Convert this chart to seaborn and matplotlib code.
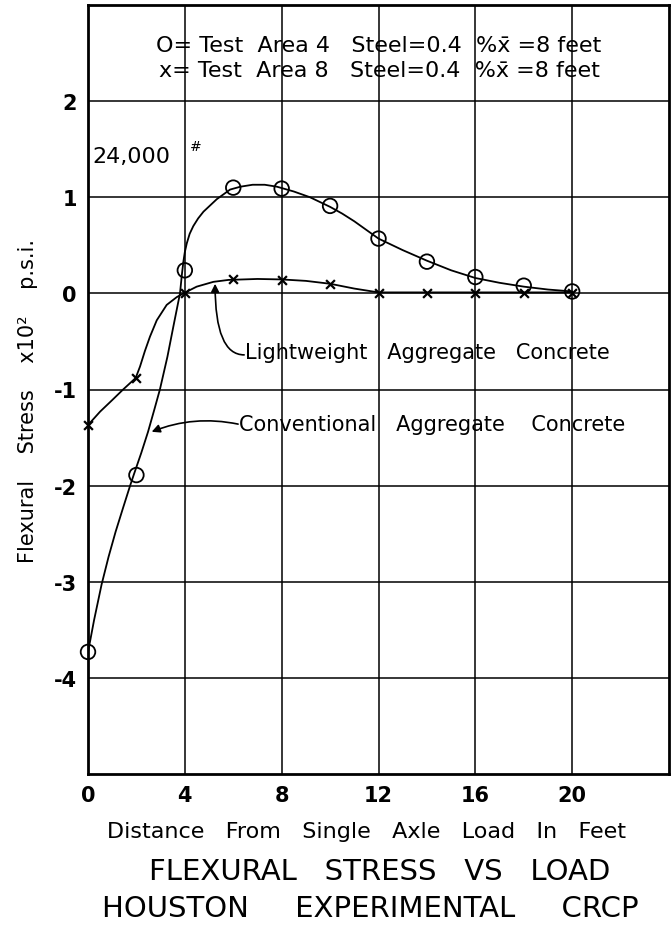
import numpy as np
import pandas as pd
import matplotlib
matplotlib.use("Agg")
import matplotlib.pyplot as plt
import seaborn as sns

# ---- data ----
dist = [0, 2, 4, 6, 8, 10, 12, 14, 16, 18, 20]
stress_area4 = [-3.73, -1.89, 0.24, 1.10, 1.09, 0.91, 0.57, 0.33, 0.17, 0.08, 0.02]   # circles
stress_area8 = [-1.37, -0.88, 0.00, 0.15, 0.14, 0.10, 0.00, 0.00, 0.00, 0.00, 0.00]   # crosses

# hand-drawn fitted curves (vertices)
conv_curve_x = [0, 0.1, 0.25, 0.56, 0.85, 1.14, 1.45, 1.74, 1.9, 2.2, 2.48, 2.75, 2.97, 3.28, 3.53, 3.8,
                3.88, 3.94, 4.0, 4.08, 4.2, 4.35, 4.55, 4.77, 5.32, 5.87, 6.3, 6.8, 7.3, 7.8, 8.5, 9.17, 10.0,
                10.5, 11.0, 11.5, 12.0, 12.5, 13.0, 14.0, 15.0, 16.0, 17.0, 18.0, 19.0, 20.0]
conv_curve_y = [-3.73, -3.6, -3.4, -3.03, -2.74, -2.48, -2.23, -2.0, -1.88, -1.66, -1.44, -1.2, -1.0, -0.66, -0.34, 0.0,
                0.2, 0.33, 0.43, 0.52, 0.62, 0.70, 0.78, 0.85, 0.98, 1.08, 1.11, 1.13, 1.13, 1.11, 1.06, 1.0, 0.9,
                0.83, 0.75, 0.66, 0.57, 0.51, 0.45, 0.34, 0.24, 0.16, 0.11, 0.07, 0.04, 0.02]
lw_curve_x = [0, 0.5, 1.0, 1.45, 1.97, 2.15, 2.35, 2.56, 2.84, 3.25, 3.66, 3.94, 4.49,
              5.18, 5.8, 7.0, 8.0, 9.0, 10.0, 11.0, 12.0, 14.0, 16.0, 18.0, 20.0]
lw_curve_y = [-1.37, -1.23, -1.11, -1.0, -0.88, -0.76, -0.60, -0.45, -0.28, -0.12, -0.04, 0.0, 0.07,
              0.12, 0.14, 0.15, 0.145, 0.13, 0.10, 0.05, 0.01, 0.01, 0.01, 0.01, 0.01]

x_ticks = [0, 4, 8, 12, 16, 20]
y_ticks = [2, 1, 0, -1, -2, -3, -4]
y_tick_labels = ["2", "1", "0", "-1", "-2", "-3", "-4"]

legend_line1 = "O= Test  Area 4   Steel=0.4  %x\u0304 =8 feet"
legend_line2 = "x= Test  Area 8   Steel=0.4  %x\u0304 =8 feet"
load_label = "24,000"
lw_label = "Lightweight   Aggregate   Concrete"
conv_label = "Conventional   Aggregate    Concrete"
x_label = "Distance   From   Single   Axle   Load   In   Feet"
y_label = "Flexural    Stress    x10\u00b2    p.s.i."
title1 = "FLEXURAL   STRESS   VS   LOAD"
title2 = "HOUSTON     EXPERIMENTAL     CRCP"

# ---- styling ----
sns.set_theme(style="white")
plt.rcParams["font.family"] = ["DejaVu Sans"]
plt.rcParams.update({"text.color": "black", "axes.labelcolor": "black",
                     "xtick.color": "black", "ytick.color": "black"})

W, H = 672, 928
fig = plt.figure(figsize=(W / 100, H / 100), dpi=100)
ax = fig.add_axes([88 / W, 1 - 775 / H, (669 - 88) / W, (775 - 6) / H])

pts = pd.DataFrame({"dist": dist, "a4": stress_area4, "a8": stress_area8})
conv = pd.DataFrame({"x": conv_curve_x, "y": conv_curve_y})
lw = pd.DataFrame({"x": lw_curve_x, "y": lw_curve_y})

sns.lineplot(data=conv, x="x", y="y", sort=False, estimator=None, color="black", lw=1.3, ax=ax, zorder=3)
sns.lineplot(data=lw, x="x", y="y", sort=False, estimator=None, color="black", lw=1.3, ax=ax, zorder=3)
sns.scatterplot(data=pts, x="dist", y="a4", marker="o", s=110, facecolors="none",
                edgecolor="black", linewidth=1.3, ax=ax, zorder=4, clip_on=False)
sns.scatterplot(data=pts, x="dist", y="a8", marker="x", s=40, color="black",
                linewidth=1.6, ax=ax, zorder=4, clip_on=False)

ax.set_xlim(0, 24)
ax.set_ylim(-5, 3)
ax.set_xticks(x_ticks)
ax.set_xticklabels([str(t) for t in x_ticks], fontsize=15, fontweight="bold")
ax.set_yticks(y_ticks)
ax.set_yticklabels(y_tick_labels, fontsize=15, fontweight="bold")
ax.tick_params(axis="both", length=0, pad=8, colors="black")
ax.grid(True, color="black", lw=1.1)
ax.set_axisbelow(True)
for sp in ax.spines.values():
    sp.set_visible(True)
    sp.set_color("black")
    sp.set_linewidth(2.0)
ax.set_xlabel("")
ax.set_ylabel("")

# legend text block at top
ax.text(12.02, 2.52, legend_line1, ha="center", va="baseline", fontsize=16)
ax.text(12.02, 2.26, legend_line2, ha="center", va="baseline", fontsize=16)

# load annotation
ax.text(0.17, 1.43, load_label, ha="left", va="center", fontsize=16)
ax.text(4.2, 1.53, "#", ha="left", va="center", fontsize=10)

# curve labels with arrows
ax.text(6.5, -0.61, lw_label, ha="left", va="center", fontsize=15)
ax.annotate("", xy=(5.25, 0.1), xytext=(6.45, -0.64),
            arrowprops=dict(arrowstyle="-|>", color="black", lw=1.2, mutation_scale=12,
                            connectionstyle="angle3,angleA=0,angleB=90", shrinkA=0, shrinkB=0))
ax.text(6.25, -1.36, conv_label, ha="left", va="center", fontsize=15)
ax.annotate("", xy=(2.63, -1.44), xytext=(6.2, -1.36),
            arrowprops=dict(arrowstyle="-|>", color="black", lw=1.2, mutation_scale=12,
                            connectionstyle="arc3,rad=0.15", shrinkA=0, shrinkB=0))

# axis labels and titles
fig.text(28 / W, 1 - 401 / H, y_label, ha="center", va="center", rotation=90, fontsize=15)
fig.text(367 / W, 1 - 838 / H, x_label, ha="center", va="baseline", fontsize=16)
fig.text(380 / W, 1 - 880 / H, title1, ha="center", va="baseline", fontsize=21)
fig.text(370 / W, 1 - 917 / H, title2, ha="center", va="baseline", fontsize=21)

fig.savefig("out.png", dpi=100)
